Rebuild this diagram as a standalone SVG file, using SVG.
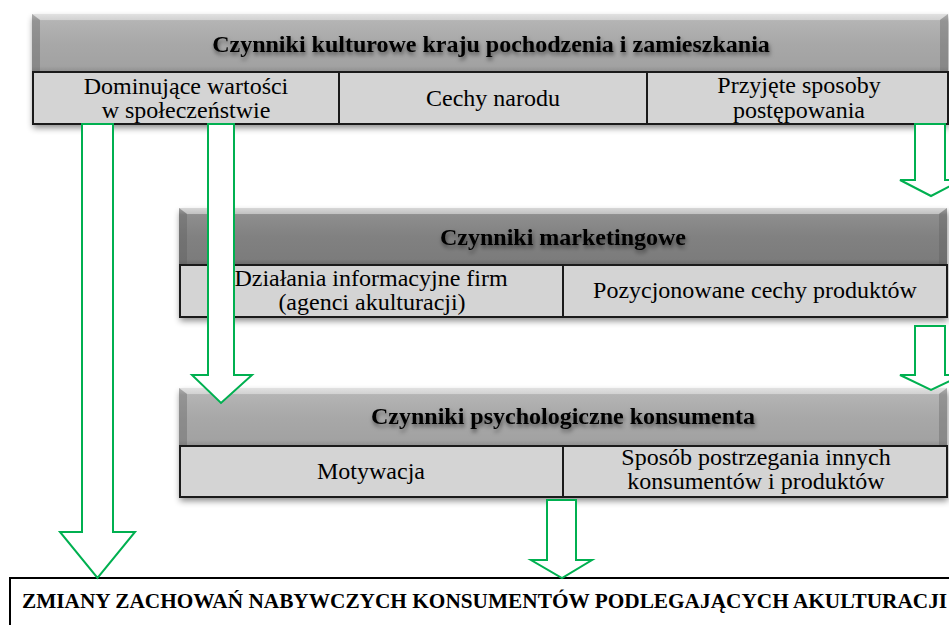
<svg xmlns="http://www.w3.org/2000/svg" width="949" height="625" viewBox="0 0 949 625">
<defs>
<linearGradient id="hdrLight" x1="0" y1="0" x2="0" y2="1">
<stop offset="0" stop-color="#dcdcdc"/>
<stop offset="0.12" stop-color="#b4b4b4"/>
<stop offset="0.5" stop-color="#a8a8a8"/>
<stop offset="0.9" stop-color="#a2a2a2"/>
<stop offset="1" stop-color="#8e8e8e"/>
</linearGradient>
<linearGradient id="hdrDark" x1="0" y1="0" x2="0" y2="1">
<stop offset="0" stop-color="#c4c4c4"/>
<stop offset="0.12" stop-color="#8e8e8e"/>
<stop offset="0.5" stop-color="#818181"/>
<stop offset="0.9" stop-color="#7c7c7c"/>
<stop offset="1" stop-color="#6a6a6a"/>
</linearGradient>
<filter id="boxShadow" x="-5%" y="-10%" width="115%" height="130%">
<feDropShadow dx="1" dy="4" stdDeviation="3" flood-color="#000" flood-opacity="0.45"/>
</filter>
<filter id="textShadow" x="-5%" y="-30%" width="110%" height="170%">
<feDropShadow dx="1" dy="3" stdDeviation="2" flood-color="#000" flood-opacity="0.5"/>
</filter>
</defs>
<style>
.hdrL{fill:url(#hdrLight);}
.hdrD{fill:url(#hdrDark);}
.bevTop{fill:#e6e6e6;opacity:0.55;}
.bevSide{fill:#5a5a5a;opacity:0.35;}
.cell{fill:#d4d4d4;stroke:#1a1a1a;stroke-width:2;}
.base{fill:#d4d4d4;filter:url(#boxShadow);}
.ht{font-family:"Liberation Serif","Times New Roman",serif;font-weight:bold;font-size:24px;fill:#000;text-anchor:middle;filter:url(#textShadow);}
.ct{font-family:"Liberation Serif","Times New Roman",serif;font-size:24px;fill:#000;text-anchor:middle;}
.bt{font-family:"Liberation Serif","Times New Roman",serif;font-weight:bold;font-size:21.3px;fill:#000;}
.arrow{fill:#fff;stroke:#00b050;stroke-width:2;stroke-linejoin:miter;}
</style>
<rect x="0" y="0" width="949" height="625" fill="#fff"/>

<g id="node-kulturowe">
<rect class="base" x="32" y="14" width="916" height="110"/>
<rect class="hdrL" x="32" y="14" width="916" height="58"/>
<polygon class="bevTop" points="32,14 948,14 940,20 40,20"/>
<polygon class="bevSide" points="32,14 40,20 40,72 32,72"/>
<polygon class="bevSide" points="948,14 948,72 940,72 940,20"/>
<text class="ht" x="491" y="52">Czynniki kulturowe kraju pochodzenia i zamieszkania</text>
<rect class="cell" x="33" y="72" width="306" height="52"/>
<rect class="cell" x="339" y="72" width="308" height="52"/>
<rect class="cell" x="647" y="72" width="301" height="52"/>
<text class="ct" x="186" y="94">Dominujące wartości</text>
<text class="ct" x="186" y="118">w społeczeństwie</text>
<text class="ct" x="493" y="106">Cechy narodu</text>
<text class="ct" x="799" y="93">Przyjęte sposoby</text>
<text class="ct" x="799" y="118">postępowania</text>
</g>

<g id="node-marketingowe">
<rect class="base" x="179" y="208" width="768" height="109"/>
<rect class="hdrD" x="179" y="208" width="768" height="57"/>
<polygon class="bevTop" points="179,208 947,208 939,214 187,214"/>
<polygon class="bevSide" points="179,208 187,214 187,265 179,265"/>
<polygon class="bevSide" points="947,208 947,265 939,265 939,214"/>
<text class="ht" x="563" y="245">Czynniki marketingowe</text>
<rect class="cell" x="180" y="265" width="383" height="52"/>
<rect class="cell" x="563" y="265" width="384" height="52"/>
<text class="ct" x="371" y="286">Działania informacyjne firm</text>
<text class="ct" x="372" y="310">(agenci akulturacji)</text>
<text class="ct" x="755" y="298">Pozycjonowane cechy produktów</text>
</g>

<g id="node-psychologiczne">
<rect class="base" x="179" y="388" width="768" height="109"/>
<rect class="hdrL" x="179" y="388" width="768" height="58"/>
<polygon class="bevTop" points="179,388 947,388 939,394 187,394"/>
<polygon class="bevSide" points="179,388 187,394 187,446 179,446"/>
<polygon class="bevSide" points="947,388 947,446 939,446 939,394"/>
<text class="ht" x="563" y="424">Czynniki psychologiczne konsumenta</text>
<rect class="cell" x="180" y="446" width="383" height="51"/>
<rect class="cell" x="563" y="446" width="384" height="51"/>
<text class="ct" x="371" y="479">Motywacja</text>
<text class="ct" x="756" y="465">Sposób postrzegania innych</text>
<text class="ct" x="756" y="489">konsumentów i produktów</text>
</g>

<g id="node-zmiany">
<rect x="10" y="578" width="960" height="70" fill="#fff" stroke="#000" stroke-width="2"/>
<text class="bt" x="22" y="608">ZMIANY ZACHOWAŃ NABYWCZYCH KONSUMENTÓW PODLEGAJĄCYCH AKULTURACJI</text>
</g>

<g id="connectors">
<polygon class="arrow" points="82,124 113,124 113,532 135,532 97.5,578 60,532 82,532"/>
<polygon class="arrow" points="208,124 234,124 234,375 252,375 221,403 192,375 208,375"/>
<polygon class="arrow" points="915,124 945,124 945,180 962,180 931,196 900,180 915,180"/>
<polygon class="arrow" points="915,326 945,326 945,375 962,375 931,390 900,375 915,375"/>
<polygon class="arrow" points="547,500 576,500 576,560 592,560 562,578 531,560 547,560"/>
</g>
</svg>
